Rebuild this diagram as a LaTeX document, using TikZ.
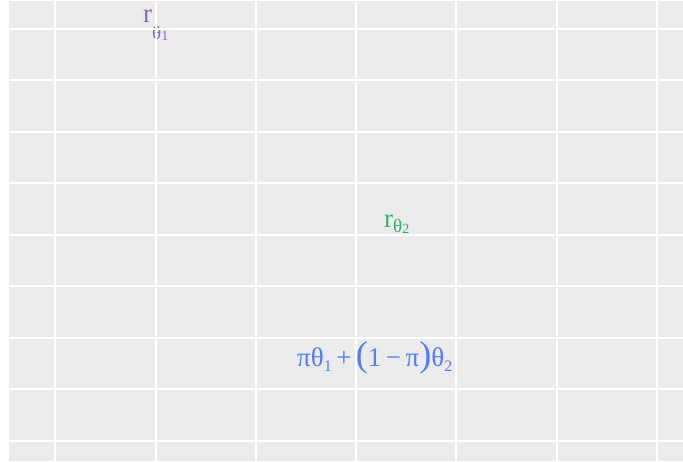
\documentclass[tikz,border=0pt]{standalone}
\usepackage{fontspec}
\setmainfont{Liberation Serif}
\usepackage{xcolor}
\usetikzlibrary{positioning}
\definecolor{panelgrey}{HTML}{EBEBEB}
\definecolor{rpurple}{HTML}{8468C9}
\definecolor{rgreen}{HTML}{2BB56C}
\definecolor{mixblue}{HTML}{557DF7}
\newcommand{\subth}[2]{\raisebox{#1}{\fontsize{19}{19}\selectfont θ\raisebox{-1pt}{\fontsize{14}{14}\selectfont #2}}}
\newcommand{\subdig}[1]{\raisebox{-5pt}{\fontsize{16}{16}\selectfont #1}}
\newcommand{\bigpar}[1]{{\fontsize{36}{36}\selectfont #1}}
\tikzset{
gridline/.style={
white,
line width=2pt
},
curvelabel/.style={
inner sep=0pt,
anchor=base west,
font=\fontsize{27}{30}\selectfont
}
}

\begin{document}
\begin{tikzpicture}[x=1pt,y=-1pt]
\useasboundingbox (0,0) rectangle (683,461);
\fill[panelgrey] (9,1) rectangle (683,461);

% labels of the three curves
\node[curvelabel,text=rpurple] (r1) at (143,22) {r\subth{-17pt}{1}};
\node[curvelabel,text=rgreen] (r2) at (384,227) {r\subth{-5pt}{2}};
\node[curvelabel,text=mixblue] (mix) at (297,366)
  {πθ\subdig{1}\,+\,\bigpar{(}1\,−\,π\bigpar{)}θ\subdig{2}};

% panel grid
\foreach \gx in {55,155.5,256,356,456,556.5,657}
  \draw[gridline] (\gx,1) -- (\gx,461);
\foreach \gy in {28.5,80,131.5,183,234.5,286,337.5,389,440.5}
  \draw[gridline] (9,\gy) -- (683,\gy);
\end{tikzpicture}
\end{document}
